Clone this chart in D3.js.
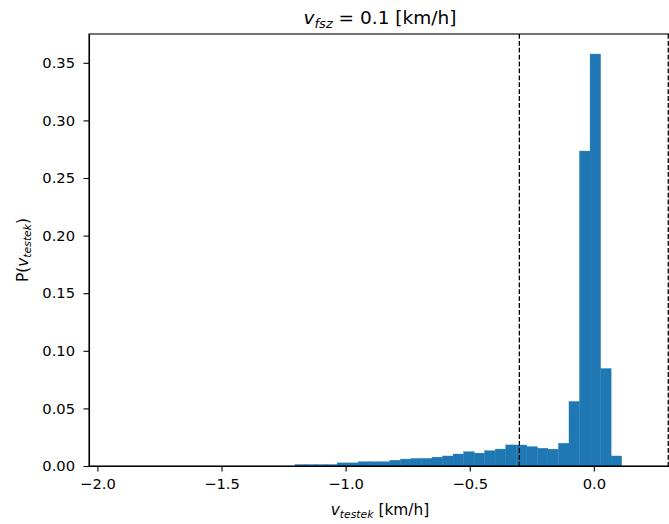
<!DOCTYPE html>
<html lang="en">
<head>
<meta charset="utf-8">
<title>v_fsz histogram</title>
<script src="https://d3js.org/d3.v7.min.js"></script>
<style>
  body { margin: 0; background: #fff; }
  svg { display: block; font-family: "DejaVu Sans", sans-serif; }
  .axis text { font-size: 14.7px; fill: #000; font-family: "DejaVu Sans", sans-serif; }
  .axis path, .axis line { stroke: #000; stroke-width: 1.1px; }
</style>
</head>
<body>
<script>
// histogram bins (left edge of first bin and common width, in km/h)
const binStart = -1.204;
const binWidth = 0.04246;
// density per bin
const density = [
  0.0013, 0.0013, 0.0013, 0.0013, 0.0027, 0.0027, 0.0037, 0.0037,
  0.0037, 0.0050, 0.0060, 0.0065, 0.0066, 0.0077, 0.0087, 0.0104,
  0.0124, 0.0112, 0.0133, 0.0147, 0.0183, 0.0182, 0.0168, 0.0154,
  0.0146, 0.0197, 0.0560, 0.2734, 0.3576, 0.0846, 0.0087
];
const xTicks = [-2.0, -1.5, -1.0, -0.5, 0.0];
const yTicks = [0, 0.05, 0.10, 0.15, 0.20, 0.25, 0.30, 0.35];
const vLines = [-0.3, 0.3];

const w = 669, h = 524;
const padL = 89, padR = 671, padT = 34, padB = 466;

const svg = d3.select("body").append("svg")
  .attr("width", w)
  .attr("height", h);

const x = d3.scaleLinear().domain([-2.034, 0.311]).range([padL, padR]);
const y = d3.scaleLinear().domain([0, 0.375]).range([padB, padT]);

// bars
svg.append("g").selectAll("rect")
  .data(density)
  .join("rect")
  .attr("x", (d, i) => x(binStart + i * binWidth))
  .attr("width", (d, i) => x(binStart + (i + 1) * binWidth) - x(binStart + i * binWidth))
  .attr("y", d => y(d))
  .attr("height", d => y(0) - y(d))
  .attr("fill", "#1f77b4")
  .attr("stroke", "#1f77b4")
  .attr("stroke-width", 0.35);

// dashed verticals
svg.append("g").selectAll("line")
  .data(vLines)
  .join("line")
  .attr("x1", d => x(d)).attr("x2", d => x(d))
  .attr("y1", padT).attr("y2", padB)
  .attr("stroke", "#000")
  .attr("stroke-width", 1.3)
  .attr("stroke-dasharray", "4.8,2.1");

// axes
const xAxis = d3.axisBottom(x)
  .tickValues(xTicks)
  .tickFormat(d3.format(".1f"))
  .tickSize(5.5).tickPadding(7).tickSizeOuter(0);
const yAxis = d3.axisLeft(y)
  .tickValues(yTicks)
  .tickFormat(d3.format(".2f"))
  .tickSize(5.5).tickPadding(8.5).tickSizeOuter(0);

svg.append("g").attr("class", "axis")
  .attr("transform", "translate(0," + padB + ")")
  .call(xAxis);
svg.append("g").attr("class", "axis")
  .attr("transform", "translate(" + padL + ",0)")
  .call(yAxis);

// frame (top + right spines)
svg.append("rect")
  .attr("x", padL).attr("y", padT)
  .attr("width", padR - padL).attr("height", padB - padT)
  .attr("fill", "none")
  .attr("stroke", "#000")
  .attr("stroke-width", 1.1);

// title
const title = svg.append("text")
  .attr("x", (padL + padR) / 2)
  .attr("y", 24)
  .attr("text-anchor", "middle")
  .attr("font-size", "18.5px");
title.append("tspan").attr("font-style", "italic").text("v");
title.append("tspan").attr("font-style", "italic").attr("font-size", "13px").attr("dy", 3.8).text("fsz");
title.append("tspan").attr("dy", -3.8).text(" = 0.1 [km/h]");

// x label
const xl = svg.append("text")
  .attr("x", (padL + padR) / 2)
  .attr("y", 515)
  .attr("text-anchor", "middle")
  .attr("font-size", "15.4px");
xl.append("tspan").attr("font-style", "italic").text("v");
xl.append("tspan").attr("font-style", "italic").attr("font-size", "10.8px").attr("dy", 3.3).text("testek");
xl.append("tspan").attr("dy", -3.3).text(" [km/h]");

// y label
const yl = svg.append("text")
  .attr("transform", "translate(28," + (padT + padB) / 2 + ") rotate(-90)")
  .attr("text-anchor", "middle")
  .attr("font-size", "15.4px");
yl.append("tspan").text("P(");
yl.append("tspan").attr("font-style", "italic").text("v");
yl.append("tspan").attr("font-style", "italic").attr("font-size", "10.8px").attr("dy", 3.3).text("testek");
yl.append("tspan").attr("dy", -3.3).text(")");
</script>
</body>
</html>
